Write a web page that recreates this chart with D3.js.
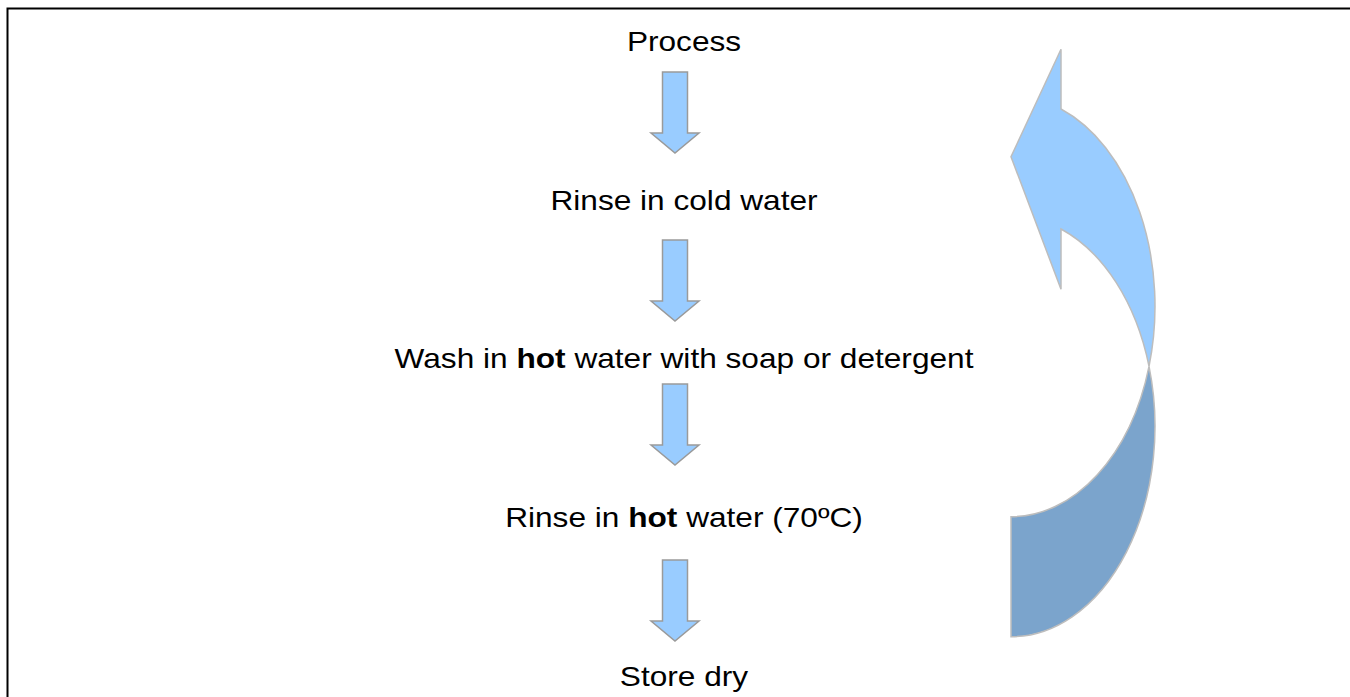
<!DOCTYPE html>
<html>
<head>
<meta charset="utf-8">
<script src="https://cdn.jsdelivr.net/npm/d3@7"></script>
<style>
  html, body { margin: 0; padding: 0; background: #fff; overflow: hidden; }
  svg { display: block; }
  text { font-family: "Liberation Sans", Arial, sans-serif; fill: #000; }
</style>
</head>
<body>
<svg id="chart"></svg>
<script>
// steps of the process, **word** = bold
var steps = [
    "Process",
    "Rinse in cold water",
    "Wash in **hot** water with soap or detergent",
    "Rinse in **hot** water (70ºC)",
    "Store dry"
];
// one arrow between each pair of steps
var links = d3.pairs(steps);

var width = 1350,
    height = 697,
    cx = 684,        // text centre
    ax = 675,        // arrow centre
    arrowTops = [72, 240, 384, 560],
    arrowLen = 81,
    headLen = 20,
    shaftW = 25,
    headW = 48;

var svg = d3.select("#chart")
    .attr("width", width)
    .attr("height", height);

// frame (only top and left edges fall inside the picture)
svg.append("path")
    .attr("d", "M7.5," + (height + 5) + "V8.5H" + (width + 5))
    .attr("fill", "none")
    .attr("stroke", "#000")
    .attr("stroke-width", 2);

var y = d3.scalePoint()
    .domain(steps)
    .range([50.8, 686]);

var label = svg.selectAll("text.step")
    .data(steps)
    .enter().append("text")
    .attr("class", "step")
    .attr("text-anchor", "middle")
    .attr("font-size", 28)
    .attr("transform", function (d) { return "translate(" + cx + "," + y(d) + ") scale(1.13,1)"; });

label.each(function (d) {
    var t = d3.select(this);
    d.split("**").forEach(function (part, i) {
        if (!part) return;
        t.append("tspan")
            .attr("font-weight", i % 2 ? "bold" : "normal")
            .text(part);
    });
});

function downArrow(top) {
    var p = d3.path(),
        base = top + arrowLen - headLen;
    p.moveTo(ax - shaftW / 2, top);
    p.lineTo(ax + shaftW / 2, top);
    p.lineTo(ax + shaftW / 2, base);
    p.lineTo(ax + headW / 2, base);
    p.lineTo(ax, top + arrowLen);
    p.lineTo(ax - headW / 2, base);
    p.lineTo(ax - shaftW / 2, base);
    p.closePath();
    return p.toString();
}

svg.selectAll("path.down")
    .data(links)
    .enter().append("path")
    .attr("class", "down")
    .attr("d", function (d, i) { return downArrow(arrowTops[i]); })
    .attr("fill", "#99ccff")
    .attr("stroke", "#9a9a9a")
    .attr("stroke-width", 1.5)
    .attr("stroke-linejoin", "miter");

// curved return arrow, built from two offset ellipses
var ex = 1011, rx = 144, ry = 210.4,
    cyB = 306.3, band = 120, cyA = cyB + band;

function pt(cy, a) { return [ex + rx * Math.cos(a), cy + ry * Math.sin(a)]; }

var aTop = Math.atan2(-Math.sqrt(1 - Math.pow(50 / rx, 2)), 50 / rx), // x = ex + 50
    aMeet = Math.asin((band / 2) / ry),
    meet = pt(cyB, aMeet),
    outerTop = pt(cyB, aTop),
    innerTop = pt(cyA, aTop);

function arc(to, sweep) {
    return "A" + rx + "," + ry + " 0 0 " + sweep + " " + to[0] + "," + to[1];
}

var headX = ex + 50;
var light = "M" + outerTop +
    arc(meet, 1) +
    arc(innerTop, 0) +
    "L" + headX + ",289.3" +
    "L" + ex + ",156.7" +
    "L" + headX + ",49.3Z";

var dark = "M" + meet +
    arc([ex, cyA + ry], 1) +
    "L" + ex + "," + (cyB + ry) +
    arc(meet, 0) + "Z";

svg.append("path")
    .attr("d", dark)
    .attr("fill", "#7ba4cc")
    .attr("stroke", "#bdbdbd")
    .attr("stroke-width", 1.5);

svg.append("path")
    .attr("d", light)
    .attr("fill", "#99ccff")
    .attr("stroke", "#bdbdbd")
    .attr("stroke-width", 1.5);
</script>
</body>
</html>
